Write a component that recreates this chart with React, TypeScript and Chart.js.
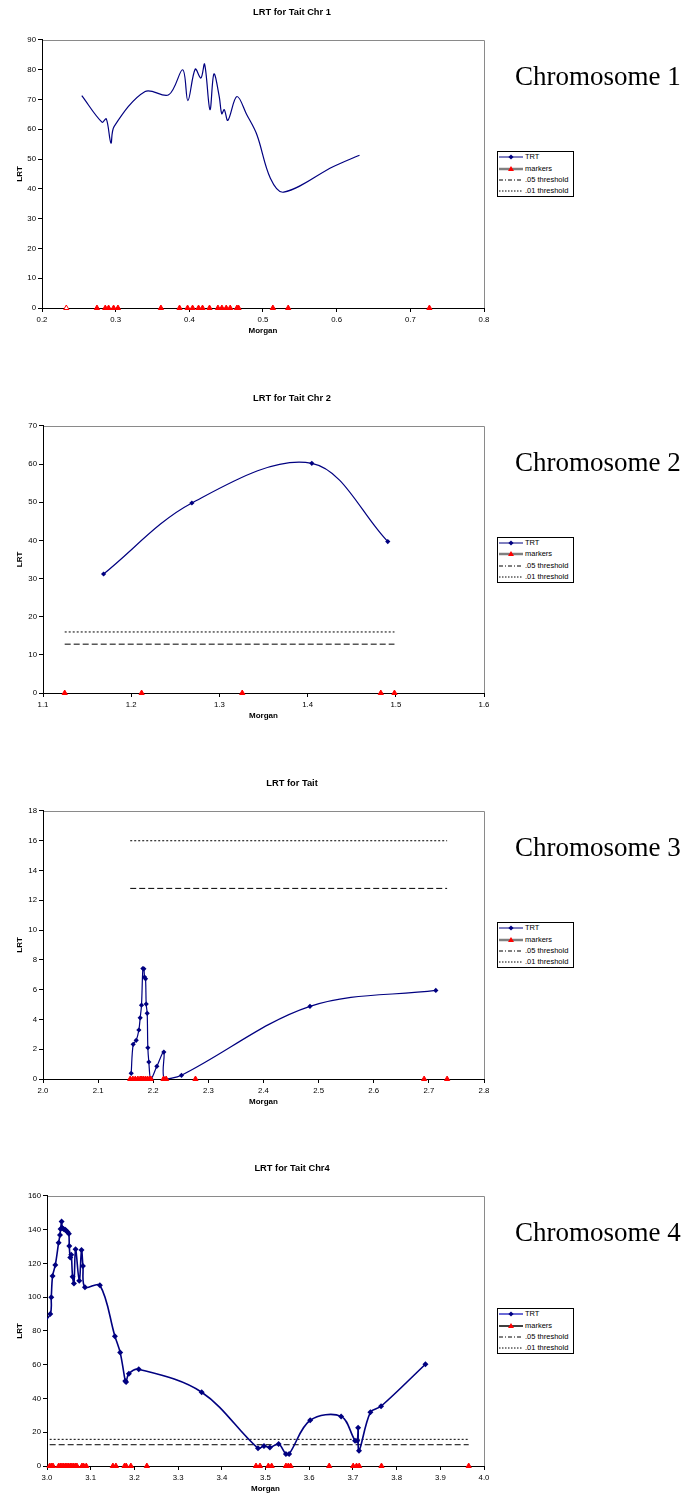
import React, { useEffect, useRef } from 'react';
import { Chart, registerables } from 'chart.js';

Chart.register(...registerables);

const FONT = '"Liberation Sans", Arial, Helvetica, sans-serif';
const SERIF = '"Liberation Serif", "Times New Roman", serif';
Chart.defaults.font.family = FONT;

// ---------- shared text ----------
const legendLabels = ['TRT', 'markers', '.05 threshold', '.01 threshold'];

// ---------- Chromosome 1 ----------
const chr1XTicks = [0.2, 0.3, 0.4, 0.5, 0.6, 0.7, 0.8];
const chr1YTicks = [0, 10, 20, 30, 40, 50, 60, 70, 80, 90];
const chr1TrtX = [0.254, 0.2814, 0.2873, 0.2936, 0.298, 0.34, 0.372, 0.391, 0.398, 0.408, 0.4157, 0.4207, 0.428, 0.4334, 0.4406, 0.444, 0.4474, 0.4523, 0.4646, 0.478, 0.4917, 0.51, 0.528, 0.5957, 0.631];
const chr1TrtY = [71.3, 62.4, 63.5, 55.4, 61, 72.7, 71.6, 80, 69.6, 80.2, 77.2, 81.9, 66.6, 78.6, 71, 65.2, 66.6, 63, 71, 64.9, 58.2, 43.6, 38.9, 47.5, 51.3];
const chr1Markers = [0.233, 0.2746, 0.2859, 0.2904, 0.2972, 0.3031, 0.3614, 0.3867, 0.3976, 0.4044, 0.4125, 0.4179, 0.4274, 0.4388, 0.4442, 0.4501, 0.4555, 0.4646, 0.4668, 0.5134, 0.5342, 0.7259];

// ---------- Chromosome 2 ----------
const chr2XTicks = [1.1, 1.2, 1.3, 1.4, 1.5, 1.6];
const chr2YTicks = [0, 10, 20, 30, 40, 50, 60, 70];
const chr2TrtX = [1.1687, 1.2688, 1.4048, 1.4909];
const chr2TrtY = [31.2, 49.8, 60.2, 39.7];
const chr2Markers = [1.1246, 1.2118, 1.3259, 1.483, 1.4985];
const chr2Thresholds = [12.8, 16.0]; // .05, .01

// ---------- Chromosome 3 ----------
const chr3XTicks = [2.0, 2.1, 2.2, 2.3, 2.4, 2.5, 2.6, 2.7, 2.8];
const chr3YTicks = [0, 2, 4, 6, 8, 10, 12, 14, 16, 18];
const chr3TrtX = [2.16, 2.1636, 2.1691, 2.1739, 2.1763, 2.1787, 2.1812, 2.183, 2.1842, 2.186, 2.1872, 2.189, 2.1902, 2.192, 2.1957, 2.2065, 2.2192, 2.2204, 2.2512, 2.4843, 2.7126];
const chr3TrtY = [0.38, 2.33, 2.6, 3.29, 4.11, 4.96, 7.42, 7.4, 6.85, 6.73, 5.03, 4.41, 2.1, 1.14, 0, 0.85, 1.81, 0, 0.25, 4.88, 5.95];
const chr3Markers = [2.1582, 2.163, 2.1675, 2.1721, 2.1763, 2.1793, 2.1824, 2.186, 2.1896, 2.1932, 2.1957, 2.2186, 2.2234, 2.2766, 2.6914, 2.7331];
const chr3Thresholds = [12.8, 16.0];

// ---------- Chromosome 4 ----------
const chr4XTicks = [3.0, 3.1, 3.2, 3.3, 3.4, 3.5, 3.6, 3.7, 3.8, 3.9, 4.0];
const chr4YTicks = [0, 20, 40, 60, 80, 100, 120, 140, 160];
const chr4TrtX = [2.985, 3.0075, 3.0098, 3.0128, 3.019, 3.0266, 3.0297, 3.0311, 3.0334, 3.035, 3.0379, 3.0418, 3.044, 3.047, 3.05, 3.051, 3.0532, 3.0555, 3.0585, 3.0617, 3.0654, 3.0738, 3.079, 3.0822, 3.0868, 3.121, 3.1554, 3.1675, 3.179, 3.181, 3.1873, 3.21, 3.354, 3.4828, 3.4965, 3.51, 3.53, 3.5467, 3.554, 3.6023, 3.673, 3.705, 3.71, 3.712, 3.714, 3.74, 3.7645, 3.866];
const chr4TrtY = [83, 90.1, 100, 112.6, 119.1, 132.3, 136.9, 140.4, 144.8, 141, 140.4, 140, 139.4, 138.6, 137.6, 130.4, 123.6, 125.2, 112.2, 108.2, 128.4, 109.8, 128, 118.5, 105.9, 107.1, 76.9, 67.2, 50.4, 49.8, 54.7, 57.3, 43.7, 10.5, 11.9, 10.9, 13.0, 7.1, 7.1, 27.1, 29.4, 15.0, 15.0, 22.7, 9.1, 31.8, 35.4, 60.3];
const chr4Markers = [3.0061, 3.0099, 3.0137, 3.0267, 3.0305, 3.0343, 3.0381, 3.0419, 3.0457, 3.0495, 3.0533, 3.0571, 3.0609, 3.0647, 3.0685, 3.08, 3.0838, 3.0899, 3.1508, 3.1577, 3.1775, 3.1813, 3.1919, 3.2285, 3.4783, 3.4874, 3.5065, 3.5141, 3.5468, 3.5522, 3.5575, 3.6458, 3.7007, 3.7083, 3.7144, 3.7654, 3.965];
const chr4Thresholds = [12.6, 15.8];

type PanelDef = {
  title: string;
  label: string;
  top: number;
  plotH: number;
  plotLeft: number;
  xTicks: number[];
  yTicks: number[];
  trtX: number[];
  trtY: number[];
  trtRadius: number;
  trtWidth: number;
  hiddenFirst?: boolean;
  markers: number[];
  hollowFirst?: boolean;
  thresholds?: number[];
  alt?: boolean;
};

const panels: PanelDef[] = [
  { title: 'LRT for Tait Chr 1', label: 'Chromosome 1', top: 0, plotH: 268, plotLeft: 42, xTicks: chr1XTicks, yTicks: chr1YTicks, trtX: chr1TrtX, trtY: chr1TrtY, trtRadius: 0, trtWidth: 1.2, markers: chr1Markers, hollowFirst: true },
  { title: 'LRT for Tait Chr 2', label: 'Chromosome 2', top: 386, plotH: 267, plotLeft: 43, xTicks: chr2XTicks, yTicks: chr2YTicks, trtX: chr2TrtX, trtY: chr2TrtY, trtRadius: 2.6, trtWidth: 1.2, markers: chr2Markers, thresholds: chr2Thresholds },
  { title: 'LRT for Tait', label: 'Chromosome 3', top: 771, plotH: 268, plotLeft: 43, xTicks: chr3XTicks, yTicks: chr3YTicks, trtX: chr3TrtX, trtY: chr3TrtY, trtRadius: 2.6, trtWidth: 1.2, markers: chr3Markers, thresholds: chr3Thresholds },
  { title: 'LRT for Tait Chr4', label: 'Chromosome 4', top: 1156, plotH: 270, plotLeft: 47, xTicks: chr4XTicks, yTicks: chr4YTicks, trtX: chr4TrtX, trtY: chr4TrtY, trtRadius: 3, trtWidth: 1.6, hiddenFirst: true, markers: chr4Markers, thresholds: chr4Thresholds, alt: true },
];

const TITLE_BLOCK = 40;
const BOTTOM_BLOCK = 36;
const CANVAS_W = 584;

const framePlugin = {
  id: 'grayFrame',
  beforeDraw(chart: any) {
    const { ctx, chartArea } = chart;
    const l = Math.round(chartArea.left) + 0.5;
    const t = Math.round(chartArea.top) + 0.5;
    const r = Math.round(chartArea.right) + 0.5;
    const b = Math.round(chartArea.bottom) + 0.5;
    ctx.save();
    ctx.strokeStyle = '#8a8a8a';
    ctx.lineWidth = 1;
    ctx.beginPath();
    ctx.moveTo(l, t);
    ctx.lineTo(r, t);
    ctx.lineTo(r, b);
    ctx.stroke();
    ctx.restore();
  },
};

function ChartPanel({ p }: { p: PanelDef }) {
  const ref = useRef<HTMLCanvasElement>(null);
  const H = TITLE_BLOCK + p.plotH + BOTTOM_BLOCK;

  useEffect(() => {
    const canvas = ref.current;
    if (!canvas) return;
    const trt = p.trtX.map((x, i) => ({ x, y: p.trtY[i] }));
    const mk = p.markers.map((x) => ({ x, y: 0 }));
    const mMin = Math.min(...p.markers);
    const mMax = Math.max(...p.markers);
    const datasets: any[] = [
      {
        label: 'markers',
        data: mk,
        showLine: false,
        pointStyle: 'triangle',
        pointRadius: 3,
        pointBackgroundColor: p.markers.map((_, i) => (p.hollowFirst && i === 0 ? '#ffffff' : '#ff0000')),
        pointBorderColor: '#ff0000',
        pointBorderWidth: 1,
        clip: false,
      },
      {
        label: 'TRT',
        data: trt,
        borderColor: '#000080',
        borderWidth: p.trtWidth,
        tension: 0.35,
        fill: false,
        pointStyle: 'rectRot',
        pointRadius: p.trtX.map((_, i) => (p.hiddenFirst && i === 0 ? 0 : p.trtRadius)),
        pointBackgroundColor: '#000080',
        pointBorderColor: '#000080',
        pointBorderWidth: 0,
      },
    ];
    if (p.thresholds) {
      datasets.push({
        label: '.05 threshold',
        data: [{ x: mMin, y: p.thresholds[0] }, { x: mMax, y: p.thresholds[0] }],
        borderColor: '#000000',
        borderWidth: 1,
        borderDash: [6, 3],
        pointRadius: 0,
        tension: 0,
      });
      datasets.push({
        label: '.01 threshold',
        data: [{ x: mMin, y: p.thresholds[1] }, { x: mMax, y: p.thresholds[1] }],
        borderColor: '#000000',
        borderWidth: 1,
        borderDash: [2, 2],
        pointRadius: 0,
        tension: 0,
      });
    }

    const tickFont = { family: FONT, size: 7.8 };
    const axisTitleFont = { family: FONT, size: 8, weight: 'bold' as const };

    const chart = new Chart(canvas, {
      type: 'line',
      data: { datasets },
      options: {
        animation: false,
        responsive: false,
        devicePixelRatio: 1,
        events: [],
        layout: { padding: 0 },
        plugins: {
          legend: { display: false },
          tooltip: { enabled: false },
          title: {
            display: true,
            text: p.title,
            color: '#000',
            font: { family: FONT, size: 9.3, weight: 'bold' },
            padding: { top: 6.4, bottom: 22.4 },
          },
        },
        scales: {
          x: {
            type: 'linear',
            position: 'bottom',
            min: p.xTicks[0],
            max: p.xTicks[p.xTicks.length - 1],
            afterFit: (s: any) => { s.height = BOTTOM_BLOCK; },
            afterBuildTicks: (s: any) => { s.ticks = p.xTicks.map((v) => ({ value: v })); },
            ticks: {
              callback: (v: any) => Number(v).toFixed(1),
              color: '#000',
              font: tickFont,
              padding: 3,
              maxRotation: 0,
              autoSkip: false,
            },
            grid: { display: true, drawOnChartArea: false, drawTicks: true, tickLength: 4, color: '#000' },
            border: { display: true, color: '#000', width: 1 },
            title: { display: true, text: 'Morgan', color: '#000', font: axisTitleFont, padding: { top: 0, bottom: 8.2 } },
          },
          y: {
            type: 'linear',
            position: 'left',
            min: p.yTicks[0],
            max: p.yTicks[p.yTicks.length - 1],
            afterFit: (s: any) => { s.width = p.plotLeft; },
            afterBuildTicks: (s: any) => { s.ticks = p.yTicks.map((v) => ({ value: v })); },
            ticks: { callback: (v: any) => String(v), color: '#000', font: tickFont, padding: 2, autoSkip: false },
            grid: { display: true, drawOnChartArea: false, drawTicks: true, tickLength: 4, color: '#000' },
            border: { display: true, color: '#000', width: 1 },
            title: { display: true, text: 'LRT', color: '#000', font: axisTitleFont, padding: { top: 14.7, bottom: 0 } },
          },
          yr: {
            type: 'linear',
            position: 'right',
            display: true,
            grid: { display: false },
            border: { display: false },
            ticks: { display: false },
            afterFit: (s: any) => { s.width = 100; },
          },
        },
      } as any,
      plugins: [framePlugin],
    });
    return () => chart.destroy();
  }, [p]);

  return (
    <canvas
      ref={ref}
      width={CANVAS_W}
      height={H}
      style={{ position: 'absolute', left: 0, top: p.top, width: CANVAS_W, height: H, display: 'block' }}
    />
  );
}

function LegendBox({ p }: { p: PanelDef }) {
  const plotTop = p.top + TITLE_BLOCK;
  const boxTop = plotTop + p.plotH / 2 - 23;
  const rowCenters = [6, 17.5, 29, 40];
  const trtLine = p.alt ? '#6b6bd6' : '#000080';
  const trtLineW = p.alt ? 2 : 1;
  const mkLine = p.alt ? '#000000' : '#808080';
  const mkLineW = p.alt ? 1.5 : 2.5;
  const sample = (i: number) => {
    if (i === 0)
      return (
        <>
          <line x1={0} y1={5} x2={24} y2={5} stroke={trtLine} strokeWidth={trtLineW} />
          <polygon points="12,2.4 14.6,5 12,7.6 9.4,5" fill="#000080" />
        </>
      );
    if (i === 1)
      return (
        <>
          <line x1={0} y1={5} x2={24} y2={5} stroke={mkLine} strokeWidth={mkLineW} />
          <polygon points="12,2 15,7 9,7" fill="#ff0000" />
        </>
      );
    if (i === 2) return <line x1={0} y1={5} x2={24} y2={5} stroke="#000" strokeWidth={1} strokeDasharray="4 2 1 2" />;
    return <line x1={0} y1={5} x2={24} y2={5} stroke="#000" strokeWidth={1} strokeDasharray="1.5 1.5" />;
  };
  return (
    <div
      style={{
        position: 'absolute',
        left: 497,
        top: boxTop,
        width: 77,
        height: 46,
        boxSizing: 'border-box',
        border: '1px solid #000',
        background: '#fff',
        fontFamily: FONT,
        fontSize: 7.5,
        color: '#000',
      }}
    >
      {legendLabels.map((lab, i) => (
        <div key={lab} style={{ position: 'absolute', left: 0, top: rowCenters[i] - 1 - 5, width: 75, height: 10 }}>
          <svg width={24} height={10} style={{ position: 'absolute', left: 1, top: 0, overflow: 'visible' }}>
            {sample(i)}
          </svg>
          <span style={{ position: 'absolute', left: 27, top: 0, lineHeight: '10px', whiteSpace: 'nowrap' }}>{lab}</span>
        </div>
      ))}
    </div>
  );
}

function ChromLabel({ p }: { p: PanelDef }) {
  const plotTop = p.top + TITLE_BLOCK;
  return (
    <div
      style={{
        position: 'absolute',
        left: 515,
        top: plotTop + 46 - 22.6,
        fontFamily: SERIF,
        fontSize: 27,
        lineHeight: '27px',
        color: '#000',
        whiteSpace: 'nowrap',
      }}
    >
      {p.label}
    </div>
  );
}

export default function App() {
  return (
    <div style={{ position: 'absolute', left: 0, top: 0, width: 684, height: 1498, background: '#fff', overflow: 'hidden' }}>
      {panels.map((p) => (
        <React.Fragment key={p.label}>
          <ChartPanel p={p} />
          <LegendBox p={p} />
          <ChromLabel p={p} />
        </React.Fragment>
      ))}
    </div>
  );
}
